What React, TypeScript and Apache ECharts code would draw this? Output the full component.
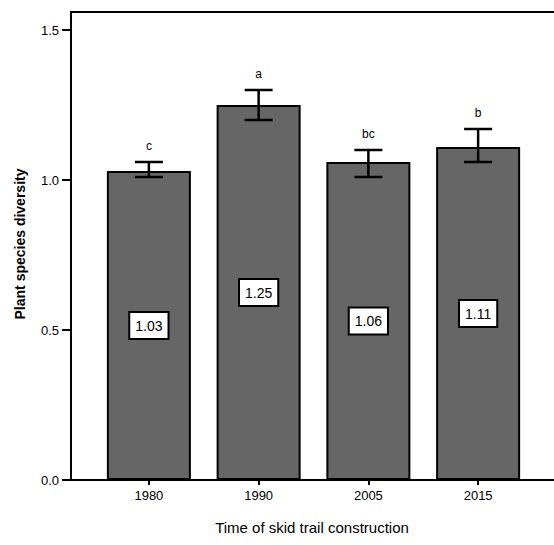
import React, { useEffect, useRef } from "react";
import * as echarts from "echarts";

const categories = ["1980", "1990", "2005", "2015"];
const means = [1.03, 1.25, 1.06, 1.11];
const errLow = [1.01, 1.2, 1.01, 1.06];
const errHigh = [1.06, 1.3, 1.1, 1.17];
const letters = ["c", "a", "bc", "b"];
const yTicks = [0, 0.5, 1.0, 1.5];

const FONT = "Liberation Sans, Arial, sans-serif";

export default function App() {
  const ref = useRef<HTMLDivElement>(null);
  useEffect(() => {
    if (!ref.current) return;
    const chart = echarts.init(ref.current, undefined, { renderer: "svg" });
    const yMax = 1.56;
    const errData = categories.map((c, i) => [i, errLow[i], errHigh[i]]);
    chart.setOption({
      animation: false,
      backgroundColor: "#ffffff",
      grid: [
        { left: 71, right: 0, top: 12, bottom: 65 },
        { left: 94, right: 21, top: 12, bottom: 65 },
      ],
      xAxis: [
        {
          type: "value",
          gridIndex: 0,
          min: 0,
          max: 1,
          axisLine: { show: true, onZero: false, lineStyle: { color: "#000", width: 2 } },
          axisTick: { show: false },
          axisLabel: { show: false },
          splitLine: { show: false },
        },
        {
          type: "category",
          gridIndex: 1,
          data: categories,
          axisLine: { show: false },
          axisTick: { show: true, alignWithLabel: true, length: 5, lineStyle: { color: "#000", width: 2 } },
          axisLabel: { color: "#000", fontSize: 13, fontFamily: FONT, margin: 9 },
        },
      ],
      yAxis: [
        {
          type: "value",
          gridIndex: 0,
          min: 0,
          max: yMax,
          interval: 0.5,
          axisLine: { show: true, lineStyle: { color: "#000", width: 2 } },
          axisTick: { show: true, length: 9, lineStyle: { color: "#000", width: 2 } },
          axisLabel: {
            color: "#000",
            fontSize: 13,
            fontFamily: FONT,
            margin: 12,
            showMaxLabel: false,
            formatter: (v: number) => (yTicks.some((t) => Math.abs(t - v) < 1e-6) ? v.toFixed(1) : ""),
          },
          splitLine: { show: false },
        },
        {
          type: "value",
          gridIndex: 1,
          min: 0,
          max: yMax,
          show: false,
        },
      ],
      series: [
        {
          type: "bar",
          xAxisIndex: 1,
          yAxisIndex: 1,
          data: means,
          barWidth: 84,
          itemStyle: { color: "#666666", borderColor: "#000", borderWidth: 2 },
          label: {
            show: true,
            position: "inside",
            formatter: (p: any) => p.value.toFixed(2),
            color: "#000",
            fontSize: 14,
            fontFamily: FONT,
            backgroundColor: "#fff",
            borderColor: "#000",
            borderWidth: 2,
            padding: [6, 5, 5, 5],
          },
        },
        {
          type: "custom",
          xAxisIndex: 1,
          yAxisIndex: 1,
          data: errData,
          z: 10,
          itemStyle: { color: "#000" },
          renderItem: (params: any, api: any) => {
            const x = api.value(0);
            const lo = api.coord([x, api.value(1)]);
            const hi = api.coord([x, api.value(2)]);
            const cx = lo[0];
            const half = 14;
            const style = { stroke: "#000", lineWidth: 2.5 };
            return {
              type: "group",
              children: [
                { type: "line", shape: { x1: cx, y1: lo[1], x2: cx, y2: hi[1] }, style },
                { type: "line", shape: { x1: cx - half, y1: lo[1], x2: cx + half, y2: lo[1] }, style },
                { type: "line", shape: { x1: cx - half, y1: hi[1], x2: cx + half, y2: hi[1] }, style },
                {
                  type: "text",
                  x: cx,
                  y: hi[1] - 10,
                  style: {
                    text: letters[params.dataIndex],
                    fill: "#000000",
                    font: `12px ${FONT}`,
                    align: "center",
                    verticalAlign: "bottom",
                  },
                },
              ],
            };
          },
        },
      ],
      graphic: [
        {
          type: "line",
          shape: { x1: 70, y1: 12, x2: 554, y2: 12 },
          style: { stroke: "#000", lineWidth: 2 },
        },
        {
          type: "text",
          x: 312,
          y: 527,
          style: {
            text: "Time of skid trail construction",
            fill: "#000",
            font: `15px ${FONT}`,
            align: "center",
            verticalAlign: "middle",
          },
        },
        {
          type: "text",
          x: 20,
          y: 244,
          rotation: Math.PI / 2,
          style: {
            text: "Plant species diversity",
            fill: "#000",
            font: `bold 14px ${FONT}`,
            align: "center",
            verticalAlign: "middle",
          },
        },
      ],
    });
    return () => chart.dispose();
  }, []);
  return (
    <div
      ref={ref}
      style={{ position: "fixed", left: 0, top: 0, width: 554, height: 545, background: "#fff" }}
    />
  );
}
